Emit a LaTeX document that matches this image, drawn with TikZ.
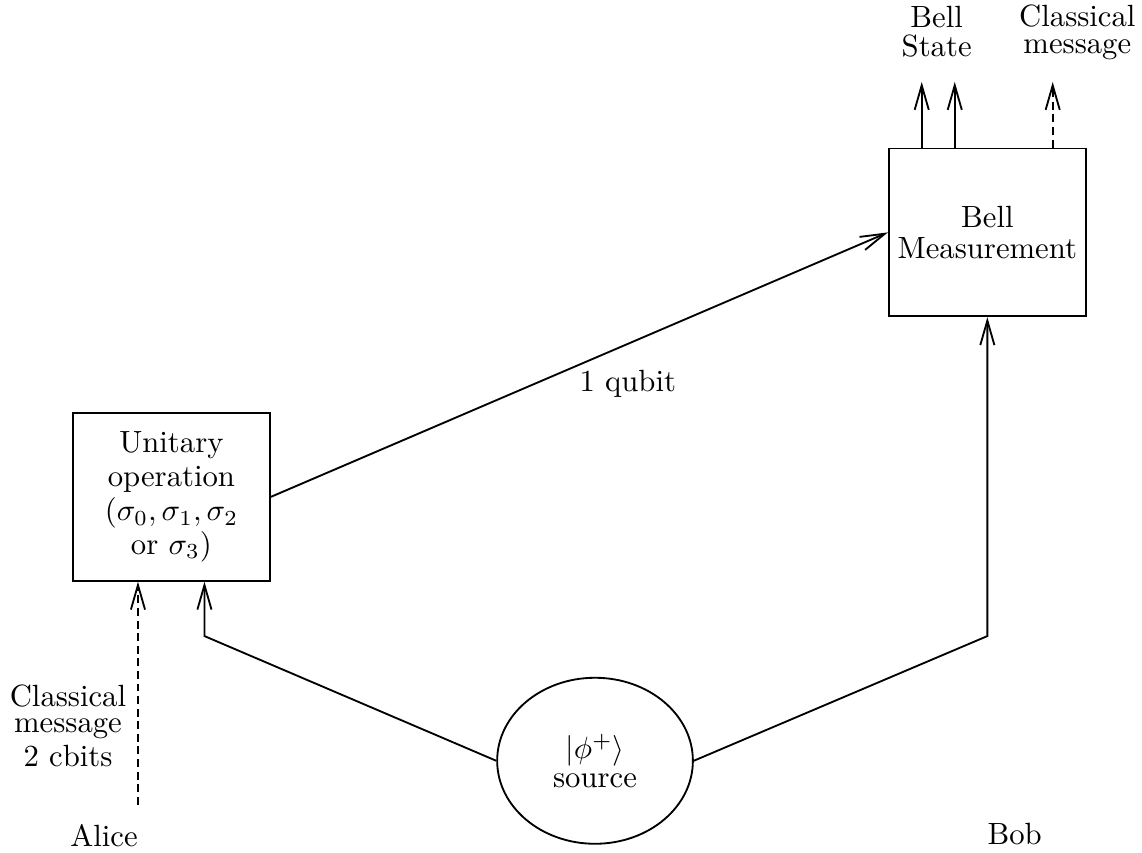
\documentclass[tikz,border=0pt]{standalone}
\usepackage{tikz}
\usetikzlibrary{arrows.meta,shapes.geometric}

\begin{document}
\begin{tikzpicture}[x=1cm,y=1cm,
  line width=0.6pt,
  opbox/.style={draw,rectangle,inner sep=0pt,minimum width=2.254cm,minimum height=1.92cm,align=center},
  arr/.style={-{Straight Barb[length=8pt,width=4.6pt]}},
  cbit/.style={arr,dash pattern=on 2.6pt off 1.5pt}]
  \useasboundingbox (0,0) rectangle (13.07,9.76);

  % boxes
  \node[opbox] (uo) at (1.962,4.073) {Unitary\\[-1pt]operation\\[-1pt]($\sigma_0,\sigma_1,\sigma_2$\\[-1pt]or $\sigma_3$)};
  \node[opbox] (bm) at (11.30,7.10) {Bell\\[-2pt]Measurement};
  \node[draw,ellipse,inner sep=0pt,minimum width=2.24cm,minimum height=1.90cm,align=center] (src) at (6.81,1.053) {$|\phi^+\rangle$\\[-2.5pt]source};

  % bends and free ends
  \coordinate (kl) at (2.34,2.48);
  \coordinate (kr) at (11.30,2.48);
  \coordinate (ca) at (1.579,0.549);
  \coordinate (b1) at (10.549,8.822);
  \coordinate (b2) at (10.927,8.822);
  \coordinate (b3) at (12.048,8.822);

  % qubits
  \draw[arr] (src.west) -- (kl) -- (kl |- uo.south);
  \draw[arr] (src.east) -- (kr) -- (bm.south);
  \draw[arr] (uo.east) -- (bm.west);
  \node[anchor=base] (qb) at (7.185,5.275) {1 qubit};

  % classical bits
  \draw[cbit] (ca) -- (ca |- uo.south);
  \node[align=center] (cm1) at (0.778,1.45) {Classical\\[-3.5pt]message\\[-1pt]2 cbits};

  % outputs
  \draw[arr] (b1 |- bm.north) -- (b1);
  \draw[arr] (b2 |- bm.north) -- (b2);
  \draw[cbit] (b3 |- bm.north) -- (b3);
  \node[align=center] (bs) at (10.72,9.40) {Bell\\[-2.5pt]State};
  \node[align=center] (cm2) at (12.33,9.39) {Classical\\[-3pt]message};

  % parties
  \node[anchor=base] (al) at (1.19,0.07) {Alice};
  \node[anchor=base] (bo) at (11.613,0.09) {Bob};
\end{tikzpicture}
\end{document}
